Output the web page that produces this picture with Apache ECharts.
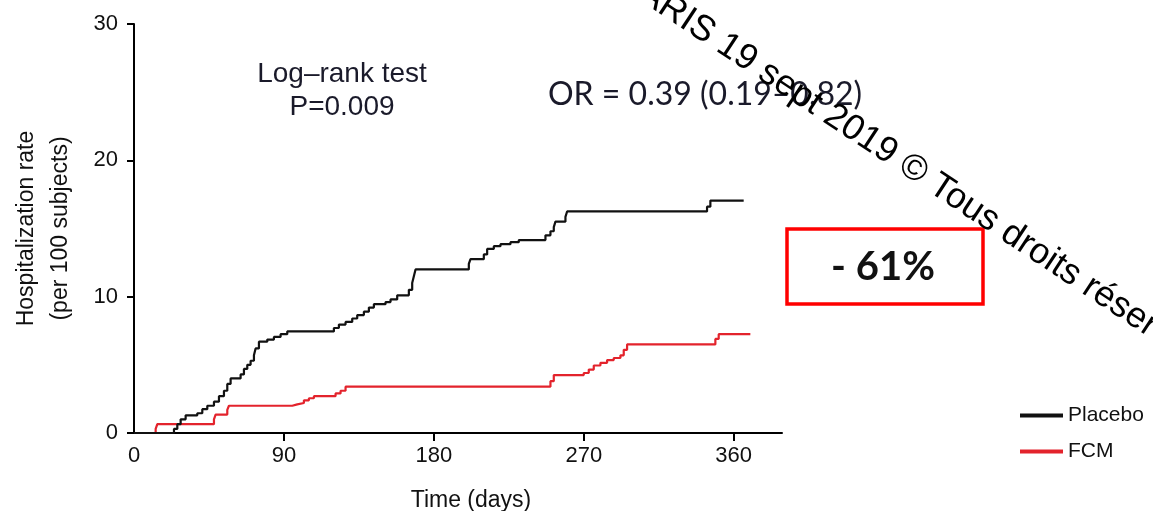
<!DOCTYPE html>
<html>
<head>
<meta charset="utf-8">
<script src="https://cdn.jsdelivr.net/npm/echarts@6/dist/echarts.min.js"></script>
<style>
html,body{margin:0;padding:0;background:#fff;}
#chart{width:1153px;height:511px;}
</style>
</head>
<body>
<div id="chart"></div>
<script>
// ---- data ----
const seriesNames = ['Placebo', 'FCM'];
const xTicks = [0, 90, 180, 270, 360];
const yTicks = [0, 10, 20, 30];
const placeboDays = [0, 24, 26, 28, 31, 38, 41, 44, 48, 51, 54, 56, 58, 64, 66, 68, 70, 72, 73, 75, 80, 84, 88, 92, 120, 123, 127, 131, 134, 138, 141, 144, 151, 154, 158, 165, 167, 168, 169, 201, 202, 210, 212, 216, 220, 226, 231, 247, 250, 252, 253, 259, 260, 344, 346, 366];
const placeboRate = [0, 0.3, 0.65, 1.0, 1.3, 1.45, 1.75, 2.0, 2.3, 2.7, 3.1, 3.6, 4.0, 4.3, 4.7, 5.0, 5.3, 5.7, 6.2, 6.7, 6.85, 7.05, 7.25, 7.45, 7.7, 7.95, 8.15, 8.4, 8.65, 8.9, 9.2, 9.45, 9.6, 9.8, 10.1, 10.5, 11.0, 11.5, 12.0, 12.4, 12.75, 13.1, 13.5, 13.7, 13.85, 14.0, 14.15, 14.5, 14.8, 15.1, 15.5, 15.85, 16.25, 16.6, 17.05, 17.05];
const fcmDays = [0, 13, 14, 48, 49, 56, 57, 95, 98, 102, 105, 108, 121, 124, 127, 250, 252, 270, 273, 276, 280, 284, 288, 292, 294, 296, 349, 351, 370];
const fcmRate = [0, 0.3, 0.65, 1.0, 1.35, 1.7, 2.0, 2.1, 2.2, 2.4, 2.55, 2.7, 2.9, 3.1, 3.4, 3.8, 4.25, 4.4, 4.65, 4.95, 5.15, 5.35, 5.5, 5.7, 6.1, 6.5, 6.9, 7.25, 7.25];
const annotations = {
  test: 'Log\u2013rank test\nP=0.009',
  or: 'OR = 0.39 (0.19\u20130.82)',
  reduction: '- 61%',
  watermark: 'PARIS 19 sept 2019 \u00A9 Tous droits r\u00E9serv\u00E9s'
};

const zip = (xs, ys) => xs.map((x, i) => [x, ys[i]]);
const FONT = '"Liberation Sans", Arial, sans-serif';

const chart = echarts.init(document.getElementById('chart'));
chart.setOption({
  animation: false,
  backgroundColor: '#fff',
  grid: { left: 134, right: 371, top: 24, bottom: 78, outerBoundsMode: 'none', containLabel: false },
  legend: {
    data: seriesNames,
    orient: 'vertical',
    left: 1015,
    top: 400,
    icon: 'rect',
    itemWidth: 43,
    itemHeight: 4,
    itemGap: 15,
    textStyle: { fontFamily: FONT, fontSize: 21, color: '#111' }
  },
  xAxis: {
    type: 'value',
    min: 0,
    max: 389,
    interval: 90,
    name: 'Time (days)',
    nameLocation: 'middle',
    nameGap: 56,
    nameTextStyle: { fontFamily: FONT, fontSize: 23, color: '#111', padding: [0, 0, 0, 26] },
    splitLine: { show: false },
    axisLine: { lineStyle: { color: '#000', width: 2 } },
    axisTick: { show: true, length: 8, customValues: xTicks.slice(1), lineStyle: { color: '#000', width: 2 } },
    axisLabel: { customValues: xTicks, margin: 12, fontFamily: FONT, fontSize: 22, color: '#111' }
  },
  yAxis: {
    type: 'value',
    min: yTicks[0],
    max: yTicks[yTicks.length - 1],
    interval: 10,
    name: 'Hospitalization rate\n(per 100 subjects)',
    nameLocation: 'middle',
    nameGap: 56,
    nameTextStyle: { fontFamily: FONT, fontSize: 23, lineHeight: 34, color: '#111' },
    splitLine: { show: false },
    axisLine: { show: true, lineStyle: { color: '#000', width: 2 } },
    axisTick: { show: true, length: 7, lineStyle: { color: '#000', width: 2 } },
    axisLabel: { margin: 16, fontFamily: FONT, fontSize: 22, color: '#111' }
  },
  series: [
    {
      name: seriesNames[0], type: 'line', step: 'end', symbol: 'none',
      color: '#111',
      lineStyle: { color: '#111', width: 2.2 },
      data: zip(placeboDays, placeboRate), z: 3
    },
    {
      name: seriesNames[1], type: 'line', step: 'end', symbol: 'none',
      color: '#e3232c',
      lineStyle: { color: '#e3232c', width: 2.2 },
      data: zip(fcmDays, fcmRate), z: 2
    }
  ],
  graphic: [
    {
      type: 'text', x: 342, y: 91,
      style: { text: annotations.test, font: '28px ' + FONT, lineHeight: 33, fill: '#1a1a2a', textAlign: 'center', textVerticalAlign: 'middle' }
    },
    {
      type: 'text', x: 548, y: 95,
      style: { text: annotations.or, font: '32px Lato, sans-serif', fill: '#1a1a2a', textAlign: 'left', textVerticalAlign: 'middle' }
    },
    {
      type: 'rect', shape: { x: 787, y: 229, width: 196, height: 75 },
      style: { fill: '#fff', stroke: '#ff0000', lineWidth: 3.5 }
    },
    {
      type: 'text', x: 883, y: 267,
      style: { text: annotations.reduction, font: 'bold 40px Lato, sans-serif', fill: '#111', textAlign: 'center', textVerticalAlign: 'middle' }
    },
    {
      type: 'text', x: 624, y: -22, rotation: -33.5 * Math.PI / 180, z: 100,
      style: { text: annotations.watermark, font: '36px ' + FONT, fill: '#000', textAlign: 'left', textVerticalAlign: 'middle' }
    }
  ]
});
</script>
</body>
</html>
